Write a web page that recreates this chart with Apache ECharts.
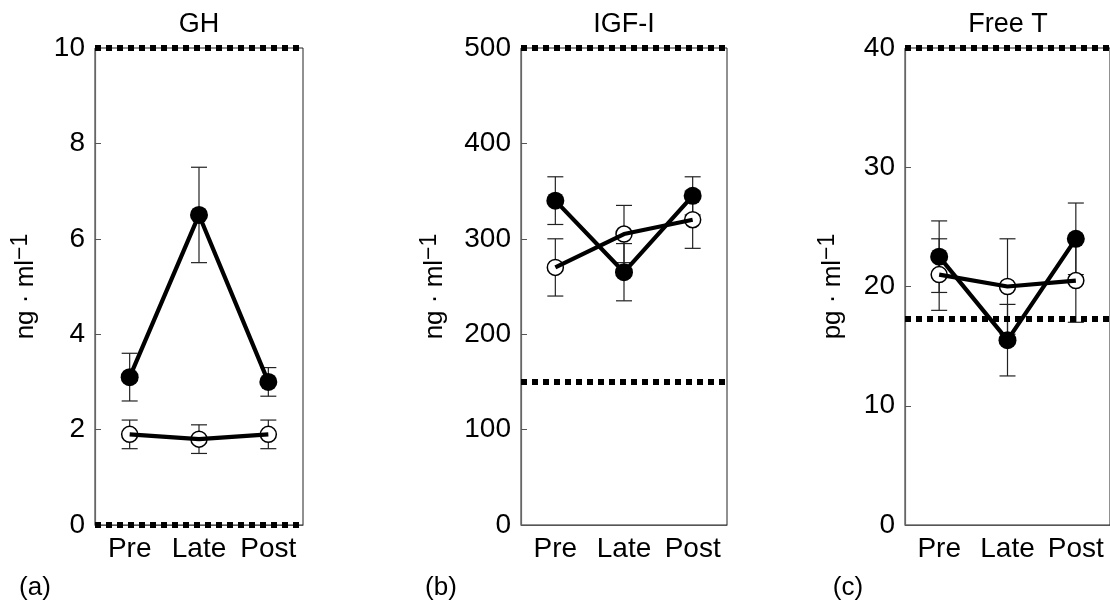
<!DOCTYPE html>
<html>
<head>
<meta charset="utf-8">
<script src="https://cdn.jsdelivr.net/npm/echarts@6/dist/echarts.min.js"></script>
<style>
html,body{margin:0;padding:0;background:#fff;}
#chart{width:1110px;height:609px;}
</style>
</head>
<body>
<div id="chart"></div>
<script>
// ---- data ----
var categories = ['Pre', 'Late', 'Post'];
var panelTitles = ['GH', 'IGF-I', 'Free T'];
var panelLetters = ['(a)', '(b)', '(c)'];
var unitLabels = ['ng · ml', 'ng · ml', 'pg · ml'];

var ghFilled = [3.1, 6.5, 3.0];
var ghFilledErr = [0.5, 1.0, 0.3];
var ghOpen = [1.9, 1.8, 1.9];
var ghOpenErr = [0.3, 0.3, 0.3];
var ghRef = [0, 10];
var ghAxis = [0, 10, 2];

var igfFilled = [340, 265, 345];
var igfFilledErr = [25, 30, 20];
var igfOpen = [270, 305, 320];
var igfOpenErr = [30, 30, 30];
var igfRef = [150, 500];
var igfAxis = [0, 500, 100];

var ftFilled = [22.5, 15.5, 24];
var ftFilledErr = [3, 3, 3];
var ftOpen = [21, 20, 20.5];
var ftOpenErr = [3, 4, 3.5];
var ftRef = [17.3, 40];
var ftAxis = [0, 40, 10];

// ---- build ----
var FONT = 'Liberation Sans, Arial, sans-serif';
var panels = [
  {filled: ghFilled, fErr: ghFilledErr, open: ghOpen, oErr: ghOpenErr, ref: ghRef, axis: ghAxis},
  {filled: igfFilled, fErr: igfFilledErr, open: igfOpen, oErr: igfOpenErr, ref: igfRef, axis: igfAxis},
  {filled: ftFilled, fErr: ftFilledErr, open: ftOpen, oErr: ftOpenErr, ref: ftRef, axis: ftAxis}
];
var gridLayout = [
  {left: 95, top: 48, width: 208, height: 477},
  {left: 521, top: 48, width: 206, height: 477},
  {left: 905, top: 48, width: 206, height: 477}
];
var nameGaps = [56, 73, 59];
var titleX = [199, 624, 1008];
var letterX = [35, 441, 848];

var grids = [], xAxes = [], yAxes = [], series = [], graphics = [];

function errData(vals, errs) {
  return vals.map(function (v, i) { return [i, v - errs[i], v + errs[i]]; });
}

function errRender(params, api) {
  var x = api.value(0);
  var lo = api.coord([x, api.value(1)]);
  var hi = api.coord([x, api.value(2)]);
  var hw = 8;
  var st = {stroke: '#222', lineWidth: 1.2};
  return {
    type: 'group',
    children: [
      {type: 'line', shape: {x1: lo[0], y1: lo[1], x2: hi[0], y2: hi[1]}, style: st},
      {type: 'line', shape: {x1: lo[0] - hw, y1: lo[1], x2: lo[0] + hw, y2: lo[1]}, style: st},
      {type: 'line', shape: {x1: hi[0] - hw, y1: hi[1], x2: hi[0] + hw, y2: hi[1]}, style: st}
    ]
  };
}

panels.forEach(function (p, k) {
  var g = gridLayout[k];
  grids.push({left: g.left, top: g.top, width: g.width, height: g.height,
    show: true, borderColor: '#222', borderWidth: 1, backgroundColor: 'transparent'});
  xAxes.push({
    gridIndex: k, type: 'category', data: categories, boundaryGap: true,
    axisLine: {lineStyle: {color: '#555', width: 1}},
    axisTick: {inside: true, alignWithLabel: true, length: 6, lineStyle: {color: '#555'}},
    axisLabel: {color: '#000', fontSize: 28, fontFamily: FONT, margin: 10, interval: 0}
  });
  yAxes.push({
    gridIndex: k, type: 'value', min: p.axis[0], max: p.axis[1], interval: p.axis[2],
    splitLine: {show: false},
    axisLine: {show: true, lineStyle: {color: '#666', width: 1.2}},
    axisTick: {show: true, inside: true, length: 6, lineStyle: {color: '#555'}},
    axisLabel: {color: '#000', fontSize: 28, fontFamily: FONT, margin: 10},
    name: '{b|' + unitLabels[k] + '}{s|−1}',
    nameLocation: 'middle', nameGap: nameGaps[k], nameRotate: 90,
    nameTextStyle: {
      color: '#000', fontFamily: FONT,
      rich: {
        b: {fontSize: 26, fontFamily: FONT, color: '#000', lineHeight: 30, verticalAlign: 'bottom'},
        s: {fontSize: 23, fontFamily: FONT, color: '#000', lineHeight: 23, verticalAlign: 'top'}
      }
    }
  });
  // error bars
  series.push({
    type: 'custom', xAxisIndex: k, yAxisIndex: k, z: 1, silent: true,
    renderItem: errRender, data: errData(p.filled, p.fErr).concat(errData(p.open, p.oErr))
  });
  // markers
  series.push({
    type: 'scatter', xAxisIndex: k, yAxisIndex: k, z: 2, symbol: 'circle', symbolSize: 16,
    itemStyle: {color: '#fff', borderColor: '#000', borderWidth: 1.5, opacity: 1},
    data: p.open
  });
  series.push({
    type: 'scatter', xAxisIndex: k, yAxisIndex: k, z: 2, symbol: 'circle', symbolSize: 18,
    itemStyle: {color: '#000', opacity: 1},
    data: p.filled
  });
  // lines
  series.push({
    type: 'line', xAxisIndex: k, yAxisIndex: k, z: 3, showSymbol: false, symbol: 'none',
    lineStyle: {color: '#000', width: 4.2}, data: p.open, animation: false,
    markLine: {
      silent: true, symbol: 'none', label: {show: false},
      lineStyle: {color: '#000', width: 6, type: [6, 5], cap: 'butt'},
      data: p.ref.map(function (r) { return {yAxis: r}; })
    }
  });
  series.push({
    type: 'line', xAxisIndex: k, yAxisIndex: k, z: 3, showSymbol: false, symbol: 'none',
    lineStyle: {color: '#000', width: 4.2}, data: p.filled, animation: false
  });
  graphics.push({type: 'text', x: titleX[k], y: 25, style: {text: panelTitles[k], fill: '#000',
    font: '27px ' + FONT, textAlign: 'center', textVerticalAlign: 'middle'}});
  graphics.push({type: 'text', x: letterX[k], y: 588, style: {text: panelLetters[k], fill: '#000',
    font: '26px ' + FONT, textAlign: 'center', textVerticalAlign: 'middle'}});
});

var chart = echarts.init(document.getElementById('chart'), null, {renderer: 'canvas'});
chart.setOption({
  animation: false,
  backgroundColor: '#fff',
  grid: grids, xAxis: xAxes, yAxis: yAxes, series: series, graphic: graphics
});
</script>
</body>
</html>
